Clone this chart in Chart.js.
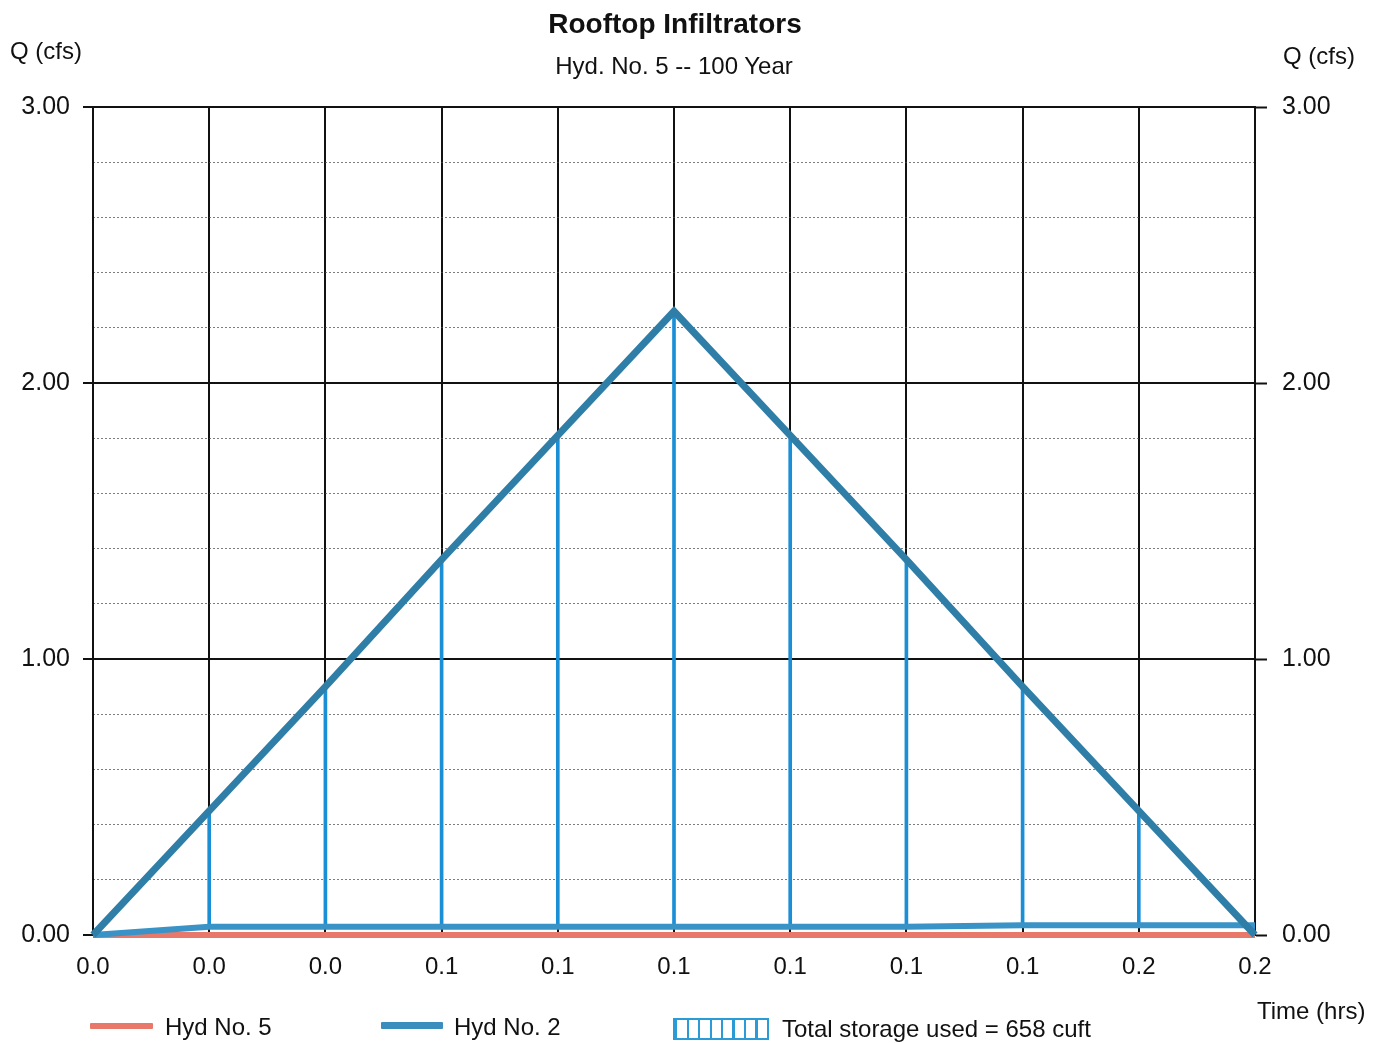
<!DOCTYPE html>
<html>
<head>
<meta charset="utf-8">
<title>Rooftop Infiltrators</title>
<script src="https://cdn.jsdelivr.net/npm/chart.js@4"></script>
<style>
  html, body { margin: 0; padding: 0; background: #fff; }
  body { width: 1384px; height: 1043px; position: relative; overflow: hidden;
         font-family: "Liberation Sans", Arial, sans-serif; color: #111; }
  #chartWrap { position: absolute; left: 0; top: 0; width: 1384px; height: 1043px; }
  .txt { position: absolute; white-space: nowrap; line-height: 1; }
  .title { font-weight: bold; font-size: 28px; left: 675px; top: 10px; transform: translateX(-50%); }
  .subtitle { font-size: 24px; left: 674px; top: 54px; transform: translateX(-50%); }
  .axisLbl { font-size: 24px; }
  .swatch { position: absolute; height: 6px; border-radius: 1px; }
  .hatch { position: absolute; left: 673px; top: 1018px; width: 92px; height: 18px;
           border: 2px solid #2a9bd4;
           background: repeating-linear-gradient(to right, #2a9bd4 0 2px, transparent 2px 11.5px); }
</style>
</head>
<body>
<div id="chartWrap"><canvas id="hydroChart" width="1384" height="1043"></canvas></div>

<div class="txt title">Rooftop Infiltrators</div>
<div class="txt subtitle">Hyd. No. 5 -- 100 Year</div>
<div class="txt axisLbl" style="left:10px; top:39px;">Q (cfs)</div>
<div class="txt axisLbl" style="left:1283px; top:44px;">Q (cfs)</div>
<div class="txt axisLbl" style="left:1257px; top:999px;">Time (hrs)</div>

<div class="swatch" style="left:90px; top:1023px; width:63px; background:#e8786a;"></div>
<div class="txt axisLbl" style="left:165px; top:1015px;">Hyd No. 5</div>
<div class="swatch" style="left:381px; top:1022px; width:62px; height:7px; background:#3a8dbd;"></div>
<div class="txt axisLbl" style="left:454px; top:1015px;">Hyd No. 2</div>
<div class="hatch"></div>
<div class="txt axisLbl" style="left:782px; top:1017px;">Total storage used = 658 cuft</div>

<script>
const timeMin = [0, 1, 2, 3, 4, 5, 6, 7, 8, 9, 10];           // minutes
const timeLabels = ['0.0', '0.0', '0.0', '0.1', '0.1', '0.1', '0.1', '0.1', '0.1', '0.2', '0.2'];
const inflowHyd2 = [0, 0.45, 0.90, 1.36, 1.81, 2.26, 1.81, 1.36, 0.90, 0.45, 0];
const storageBase = [0, 0.03, 0.03, 0.03, 0.03, 0.03, 0.03, 0.03, 0.035, 0.035, 0.035];
const outflowHyd5 = [0, 0, 0, 0, 0, 0, 0, 0, 0, 0, 0];
const qTicks = [0, 1, 2, 3];
const qLabels = ['0.00', '1.00', '2.00', '3.00'];

Chart.defaults.font.family = '"Liberation Sans", Arial, sans-serif';
Chart.defaults.color = '#111';

const pts = arr => timeMin.map((t, i) => ({ x: t, y: arr[i] }));
const hatchBars = timeMin.map((t, i) => ({ x: t, y: [storageBase[i], inflowHyd2[i]] }));

const ctx = document.getElementById('hydroChart').getContext('2d');
new Chart(ctx, {
    data: {
        datasets: [
            {
                type: 'line', label: 'Hyd No. 2', data: pts(inflowHyd2),
                borderColor: '#2f7ea8', borderWidth: 7, pointRadius: 0,
                borderJoinStyle: 'miter', tension: 0, order: 0, clip: false
            },
            {
                type: 'line', label: 'storage base', data: pts(storageBase),
                borderColor: '#3a93c6', borderWidth: 6, pointRadius: 0, tension: 0, order: 1, clip: false
            },
            {
                type: 'line', label: 'Hyd No. 5', data: pts(outflowHyd5),
                borderColor: '#e8786a', borderWidth: 6, pointRadius: 0, tension: 0, order: 2, clip: false
            },
            {
                type: 'bar', label: 'Total storage used', data: hatchBars,
                backgroundColor: '#1b8fd6', barThickness: 3, order: 3
            }
        ]
    },
    options: {
        responsive: false,
        animation: false,
        layout: { padding: { top: 107, left: 0, right: 0, bottom: 0 } },
        plugins: { legend: { display: false }, title: { display: false }, tooltip: { enabled: false } },
        scales: {
            x: {
                type: 'linear', min: 0, max: 10, offset: false,
                afterBuildTicks: s => { s.ticks = timeMin.map(v => ({ value: v })); },
                afterFit: s => { s.height = 108; },
                grid: { color: '#111', lineWidth: 2, drawTicks: false, offset: false },
                border: { color: '#111', width: 2 },
                ticks: {
                    padding: 18, font: { size: 24 }, maxRotation: 0, autoSkip: false,
                    callback: (v, i) => timeLabels[i]
                }
            },
            yMinor: {
                type: 'linear', position: 'left', min: 0, max: 3,
                afterFit: s => { s.width = 0; },
                ticks: { display: false, stepSize: 0.2 },
                grid: {
                    drawTicks: false, lineWidth: 1,
                    color: c => (Math.abs(c.tick.value - Math.round(c.tick.value)) < 1e-6 ? 'rgba(0,0,0,0)' : 'rgba(70,70,70,0.7)')
                },
                border: { display: false, dash: [2, 2] }
            },
            y: {
                type: 'linear', position: 'left', min: 0, max: 3,
                afterBuildTicks: s => { s.ticks = qTicks.map(v => ({ value: v })); },
                afterFit: s => { s.width = 93; },
                grid: { color: '#111', lineWidth: 2, tickLength: 10, tickWidth: 2, tickColor: '#111' },
                border: { color: '#111', width: 2 },
                ticks: { padding: 13, font: { size: 25 }, callback: (v, i) => qLabels[i] }
            },
            yRight: {
                type: 'linear', position: 'right', min: 0, max: 3,
                afterBuildTicks: s => { s.ticks = qTicks.map(v => ({ value: v })); },
                afterFit: s => { s.width = 129; },
                grid: { drawOnChartArea: false, tickLength: 12, tickWidth: 2, tickColor: '#111' },
                border: { color: '#111', width: 2 },
                ticks: { padding: 15, font: { size: 25 }, callback: (v, i) => qLabels[i] }
            }
        }
    }
});
</script>
</body>
</html>
